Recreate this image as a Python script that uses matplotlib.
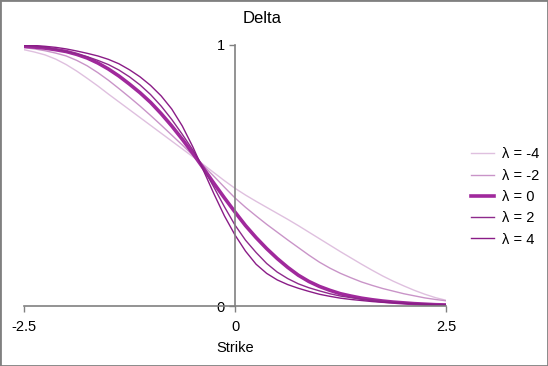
import matplotlib
matplotlib.use("Agg")
import matplotlib.pyplot as plt
from matplotlib.patches import Rectangle

plt.rcParams['font.family'] = ['Liberation Sans', 'DejaVu Sans']

strike = [-2.5, -2.375, -2.25, -2.125, -2.0, -1.875, -1.75, -1.625, -1.5, -1.375,
          -1.25, -1.125, -1.0, -0.875, -0.75, -0.625, -0.5, -0.375, -0.25, -0.125,
          0.0, 0.125, 0.25, 0.375, 0.5, 0.625, 0.75, 0.875, 1.0, 1.125,
          1.25, 1.375, 1.5, 1.625, 1.75, 1.875, 2.0, 2.125, 2.25, 2.375, 2.5]

delta_m4 = [0.982, 0.973, 0.962, 0.946, 0.925, 0.900, 0.872, 0.843, 0.812, 0.782,
            0.752, 0.722, 0.692, 0.662, 0.632, 0.602, 0.572, 0.542, 0.511, 0.480,
            0.451, 0.425, 0.401, 0.378, 0.355, 0.332, 0.308, 0.283, 0.258, 0.233,
            0.208, 0.184, 0.160, 0.137, 0.115, 0.095, 0.077, 0.060, 0.045, 0.032, 0.022]
delta_m2 = [0.990, 0.985, 0.978, 0.969, 0.958, 0.941, 0.920, 0.894, 0.865, 0.833,
            0.800, 0.766, 0.730, 0.693, 0.655, 0.617, 0.578, 0.538, 0.497, 0.455,
            0.414, 0.378, 0.345, 0.313, 0.283, 0.253, 0.224, 0.195, 0.168, 0.145,
            0.125, 0.108, 0.092, 0.079, 0.067, 0.057, 0.047, 0.039, 0.031, 0.025, 0.020]
delta_0 = [0.995, 0.992, 0.988, 0.982, 0.975, 0.964, 0.950, 0.931, 0.908, 0.881,
           0.850, 0.817, 0.780, 0.737, 0.690, 0.639, 0.585, 0.528, 0.470, 0.414,
           0.360, 0.308, 0.262, 0.220, 0.182, 0.148, 0.118, 0.094, 0.075, 0.060,
           0.047, 0.038, 0.030, 0.024, 0.019, 0.015, 0.012, 0.009, 0.007, 0.005, 0.004]
delta_p2 = [0.997, 0.994, 0.990, 0.983, 0.975, 0.966, 0.955, 0.941, 0.925, 0.904,
            0.878, 0.847, 0.810, 0.766, 0.715, 0.658, 0.598, 0.528, 0.455, 0.380,
            0.310, 0.252, 0.205, 0.163, 0.130, 0.105, 0.085, 0.070, 0.058, 0.047,
            0.038, 0.032, 0.026, 0.022, 0.018, 0.015, 0.012, 0.010, 0.008, 0.006, 0.005]
delta_p4 = [0.999, 0.998, 0.995, 0.991, 0.985, 0.977, 0.968, 0.958, 0.945, 0.928,
            0.905, 0.878, 0.845, 0.805, 0.755, 0.690, 0.610, 0.520, 0.430, 0.345,
            0.272, 0.210, 0.160, 0.125, 0.100, 0.082, 0.068, 0.056, 0.045, 0.037,
            0.030, 0.025, 0.021, 0.017, 0.014, 0.012, 0.010, 0.008, 0.007, 0.005, 0.004]

labels = ["λ = -4", "λ = -2", "λ = 0", "λ = 2", "λ = 4"]
series = [delta_m4, delta_m2, delta_0, delta_p2, delta_p4]
colors = ["#dfc0df", "#c994c8", "#a0299c", "#8e2a8c", "#8a1c87"]
widths = [1.0, 1.0, 2.6, 1.0, 1.0]

xticks = [-2.5, 0, 2.5]
xticklabels = ["-2.5", "0", "2.5"]
yticks = [0, 1]
yticklabels = ["0", "1"]

fig = plt.figure(figsize=(5.48, 3.66), dpi=100)
ax = fig.add_axes([24/548, 1-306/366, (446-24)/548, (306-45)/366])

for ys, lab, c, w in zip(series, labels, colors, widths):
    ax.plot(strike, ys, color=c, lw=w, label=lab, solid_joinstyle='round')

ax.set_xlim(-2.5, 2.5)
ax.set_ylim(0, 1)
ax.spines['top'].set_visible(False)
ax.spines['right'].set_visible(False)
ax.spines['left'].set_position(('data', 0))
for s in ('left', 'bottom'):
    ax.spines[s].set_color('#808080')
    ax.spines[s].set_linewidth(1.2)
ax.set_xticks(xticks)
ax.set_xticklabels(xticklabels)
ax.set_yticks(yticks)
ax.set_yticklabels(yticklabels)
ax.tick_params(axis='both', colors='#808080', labelcolor='black', labelsize=10.5,
               length=4, width=1)
ax.tick_params(axis='x', pad=6)
ax.set_xlabel("Strike", fontsize=10.5, labelpad=5)
fig.text(262/548, 1-18.5/366, "Delta", ha='center', va='center', fontsize=12)

leg = ax.legend(loc='center left', bbox_to_anchor=(471/548, 1-197/366),
                bbox_transform=fig.transFigure, frameon=False, fontsize=10.5,
                handlelength=1.6, handletextpad=0.5, labelspacing=0.5,
                borderpad=0, borderaxespad=0)

fig.patches.append(Rectangle((0, 0), 1, 1, transform=fig.transFigure, fill=False,
                             edgecolor='#808080', lw=2))

fig.savefig("out.png", dpi=100)
